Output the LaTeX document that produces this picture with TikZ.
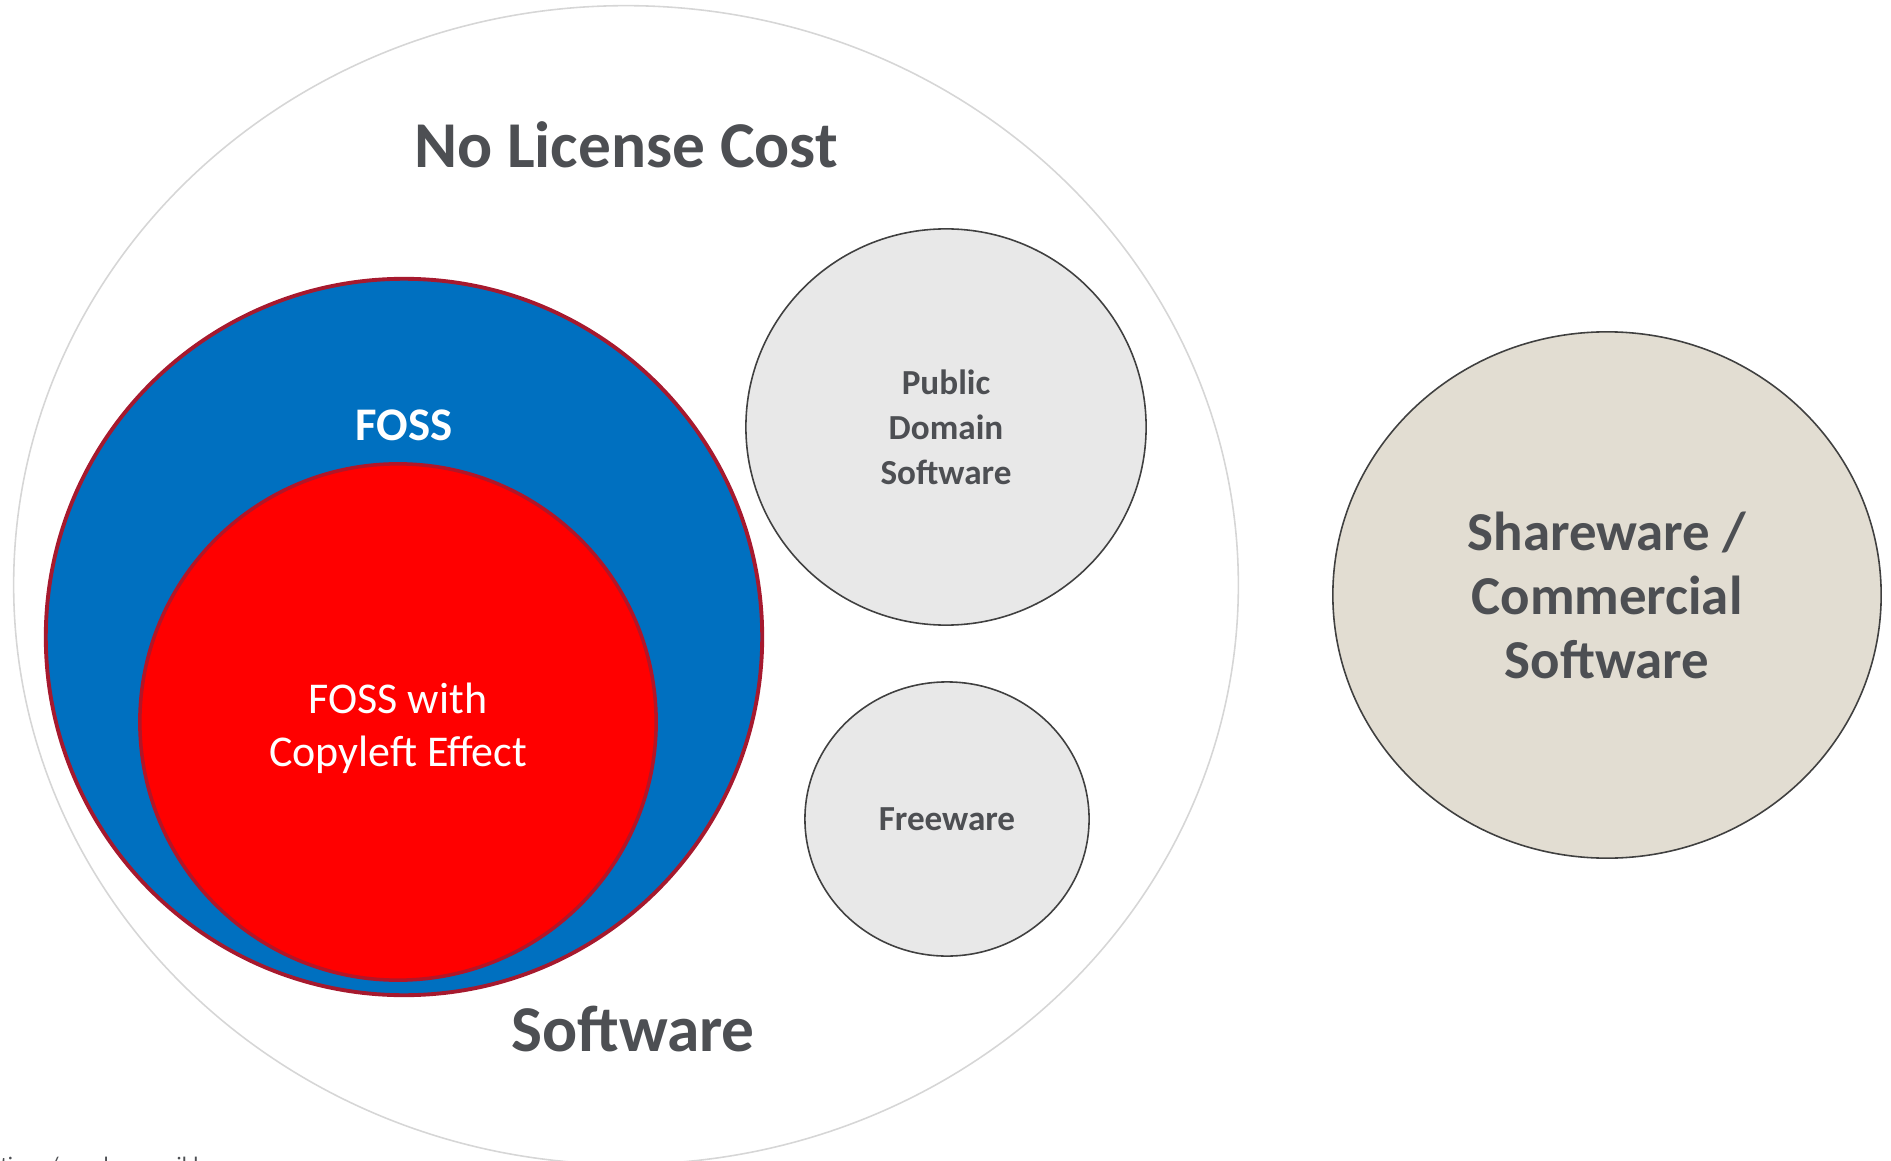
\documentclass[tikz,border=0pt]{standalone}
\usepackage{fontspec}
\setmainfont{Carlito}
\usepackage{xcolor}
\usepackage{tikz}
\usetikzlibrary{shapes.geometric}
\definecolor{txtgray}{HTML}{4D4F53}
\definecolor{fossblue}{HTML}{0070C0}
\definecolor{copyred}{HTML}{FF0000}
\definecolor{rimred}{HTML}{A6192E}
\definecolor{blobfill}{HTML}{E8E8E8}
\definecolor{sharefill}{HTML}{E2DDD2}
\definecolor{rimgray}{HTML}{404040}
\definecolor{outergray}{HTML}{D6D6D6}
\tikzstyle{blob} = [ellipse, draw=rimgray, line width=0.45pt, fill=blobfill, text=txtgray, align=center, inner sep=0pt]
\tikzstyle{bigtitle} = [text=txtgray, font={\fontsize{18.6}{23}\selectfont\bfseries}]
\tikzstyle{smalltext} = [font={\fontsize{10}{12.8}\selectfont\bfseries}]

\begin{document}
\begin{tikzpicture}[x=0.01cm,y=-0.01cm]
      \useasboundingbox (0,0) rectangle (1891,1161);
      \node (all) at (626,585) [ellipse, draw=outergray, line width=0.45pt, minimum width=12.24cm, minimum height=11.58cm] {};
      %%%%%%%%%%%%%%%%%%%%%%%%%%%%%%%%%%%%%%%
      \node (foss) at (404,637) [circle, draw=rimred, line width=1.1pt, fill=fossblue, minimum size=7.16cm] {};
      \node (copyleft) at (398,722) [circle, draw=rimred!85!copyred, line width=1pt, fill=copyred, minimum size=5.16cm, text=white, align=center, font={\fontsize{12.5}{15}\selectfont}] {};
      \node (cltext) at (398,728) [text=white, align=center, font={\fontsize{12.5}{15}\selectfont}] {FOSS with\\Copyleft Effect};
      \node (fosslbl) at (404,425) [text=white, font={\fontsize{13.3}{16}\selectfont\bfseries}] {FOSS};
      %%%%%%%%%%%%%%%%%%%%%%%%%%%%%%%%%%%%%%%
      \node (pd) at (946,427) [blob, smalltext, minimum width=4cm, minimum height=3.96cm] {Public\\Domain\\Software};
      \node (free) at (947,819) [blob, smalltext, minimum width=2.84cm, minimum height=2.74cm] {Freeware};
      \node (share) at (1607,595) [blob, fill=sharefill, minimum width=5.48cm, minimum height=5.26cm, font={\fontsize{15.6}{18.2}\selectfont\bfseries}] {Shareware /\\Commercial\\Software};
      %%%%%%%%%%%%%%%%%%%%%%%%%%%%%%%%%%%%%%%
      \node (nocost) at (626,145) [bigtitle] {No License Cost};
      \node (sw) at (633,1029) [bigtitle] {Software};
      \node (note) at (0,1156) [anchor=north west, inner sep=0pt, text=txtgray, font={\fontsize{6.3}{7}\selectfont}] {tions / overlap possible};
      \end{tikzpicture}
\end{document}
